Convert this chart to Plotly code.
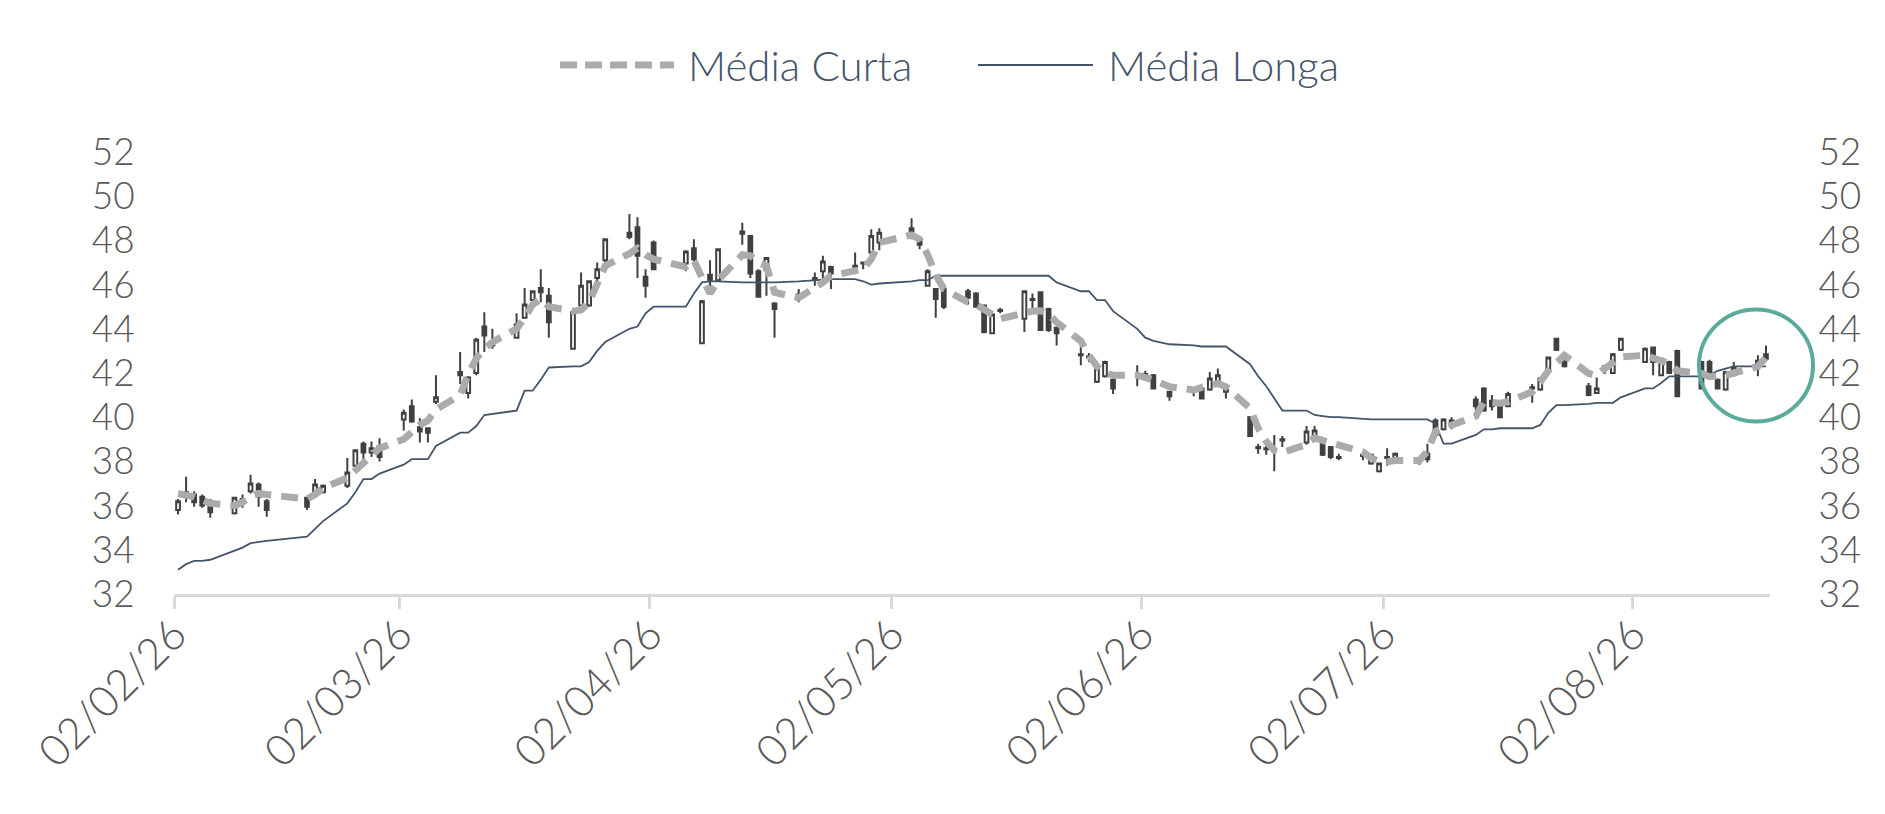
import plotly.graph_objects as go

# trading days shown on the chart
dates = (
    ["2026-02-%02d" % d for d in [2, 3, 4, 5, 6, 9, 10, 11, 12, 13, 18, 19, 20, 23, 24, 25, 26, 27]]
    + ["2026-03-%02d" % d for d in [2, 3, 4, 5, 6, 9, 10, 11, 12, 13, 16, 17, 18, 19, 20, 23, 24, 25, 26, 27, 30, 31]]
    + ["2026-04-%02d" % d for d in [1, 2, 6, 7, 8, 9, 10, 13, 14, 15, 16, 17, 20, 22, 23, 24, 27, 28, 29, 30]]
    + ["2026-05-%02d" % d for d in [4, 5, 6, 7, 8, 11, 12, 13, 14, 15, 18, 19, 20, 21, 22, 25, 26, 27, 28, 29]]
    + ["2026-06-%02d" % d for d in [1, 2, 3, 5, 8, 9, 10, 11, 12, 15, 16, 17, 18, 19, 22, 23, 24, 25, 26, 29, 30]]
    + ["2026-07-%02d" % d for d in [1, 2, 3, 6, 7, 8, 9, 10, 13, 14, 15, 16, 17, 20, 21, 22, 23, 24, 27, 28, 29, 30, 31]]
    + ["2026-08-%02d" % d for d in [3, 4, 5, 6, 7, 10, 11, 12, 13, 14, 17, 18]]
)

opens = [
    35.8, 36.6, 36.5, 36.4, 36.2, 35.65, 36.25, 36.65, 36.95, 36.2, 36.35, 36.5, 36.6, 36.9, 37.8, 38.8, 38.4, 38.7,
    39.9, 40.5, 39.55, 39.5, 40.7, 42.05, 41.1, 42.0, 44.1, 43.4, 43.6, 44.5, 45.3, 45.85, 45.5, 43.1, 45.05, 45.05, 46.3, 47.1, 48.35, 48.6,
    46.35, 47.9, 46.95, 47.65, 43.35, 46.45, 46.2, 48.3, 48.2, 46.6, 46.65, 45.15, 45.55, 46.3, 46.6, 46.8, 46.85, 46.95, 47.45, 47.9,
    48.55, 48.0, 45.95, 45.8, 45.8, 45.7, 45.6, 45.05, 43.8, 44.85, 44.45, 45.35, 45.65, 44.9, 44.05, 42.85, 42.75, 41.6, 41.85, 41.7,
    41.9, 41.95, 41.9, 41.15, 41.2, 41.3, 41.25, 41.6, 41.25, 40.0, 38.65, 38.6, 38.55, 38.95, 38.85, 39.0, 38.8, 38.65, 38.2, 38.3, 37.9,
    37.55, 38.2, 38.0, 38.05, 38.35, 39.85, 39.45, 39.85, 40.8, 41.3, 40.75, 40.55, 40.5, 41.35, 41.25, 42.15, 43.55, 42.5, 41.4, 41.1, 42.25, 42.0, 43.05,
    42.5, 43.15, 41.9, 42.5, 43.0, 42.5, 42.5, 41.7, 41.25, 41.9, 42.55, 42.85,
]
highs = [
    36.3, 37.3, 36.65, 36.5, 36.3, 36.4, 36.5, 37.4, 37.05, 36.3, 36.4, 37.2, 36.95, 38.15, 38.55, 38.9, 38.9, 39.05,
    40.35, 40.8, 39.95, 39.55, 41.9, 42.95, 41.85, 43.6, 44.75, 44.0, 44.7, 45.85, 45.75, 46.7, 45.85, 44.8, 46.55, 46.2, 47.0, 48.05, 49.2, 49.05,
    46.7, 48.0, 47.55, 48.05, 45.3, 47.1, 47.6, 48.8, 48.2, 46.7, 47.25, 45.2, 45.8, 46.55, 47.3, 46.85, 47.45, 47.05, 48.5, 48.55,
    49.0, 48.05, 46.7, 45.85, 45.85, 45.8, 45.65, 45.1, 44.7, 44.95, 45.75, 45.6, 45.7, 44.95, 44.1, 43.2, 42.9, 42.25, 42.55, 41.75,
    42.35, 42.1, 41.95, 41.2, 41.25, 41.35, 42.05, 42.2, 41.35, 40.05, 38.8, 38.9, 39.2, 39.15, 39.6, 39.6, 38.85, 38.7, 38.35, 38.4, 38.35,
    37.95, 38.6, 38.4, 38.2, 38.8, 39.95, 39.95, 40.0, 40.95, 41.35, 41.0, 40.6, 41.15, 41.5, 41.8, 42.75, 43.6, 42.95, 41.55, 41.8, 42.35, 42.9, 43.6,
    43.15, 43.2, 42.7, 42.55, 43.05, 42.55, 42.6, 41.75, 42.1, 42.5, 42.8, 43.25,
]
lows = [
    35.6, 36.15, 35.95, 35.9, 35.45, 35.6, 35.9, 36.55, 35.95, 35.5, 35.8, 36.4, 36.55, 36.8, 37.75, 38.0, 38.2, 38.0,
    39.4, 39.75, 38.85, 38.85, 40.6, 41.5, 40.85, 41.9, 42.95, 43.1, 43.55, 44.45, 45.25, 45.2, 43.6, 43.05, 44.95, 45.0, 45.95, 46.75, 48.05, 46.3,
    45.4, 46.65, 46.6, 47.05, 43.3, 45.8, 46.15, 47.8, 46.3, 45.4, 45.5, 43.6, 45.2, 45.95, 46.2, 45.8, 46.7, 46.7, 47.4, 47.55,
    48.05, 47.6, 45.9, 44.5, 44.9, 45.1, 44.95, 43.8, 43.75, 44.7, 43.85, 44.9, 43.9, 43.85, 43.25, 42.35, 42.5, 41.55, 41.8, 41.05,
    41.4, 41.7, 41.25, 40.75, 40.95, 40.8, 41.2, 41.5, 40.85, 39.1, 38.35, 38.3, 37.55, 38.65, 38.75, 38.9, 38.25, 38.1, 38.05, 38.05, 37.85,
    37.5, 37.8, 37.95, 37.85, 37.95, 39.15, 39.4, 39.45, 40.3, 40.25, 40.3, 39.95, 40.45, 40.65, 41.2, 42.1, 43.0, 42.25, 40.95, 41.05, 41.95, 41.95, 43.0,
    42.45, 41.9, 41.85, 41.95, 40.9, 41.25, 41.85, 41.25, 41.2, 41.85, 41.85, 42.6,
]
closes = [
    36.2, 36.5, 36.15, 36.0, 35.7, 36.35, 36.3, 37.0, 36.4, 35.8, 35.95, 36.95, 36.9, 37.5, 38.5, 38.4, 38.6, 38.2,
    40.2, 39.8, 39.35, 39.3, 40.9, 41.9, 41.8, 43.5, 43.7, 43.25, 44.2, 45.1, 45.7, 45.65, 44.3, 44.75, 45.95, 46.15, 46.7, 48.05, 48.15, 47.3,
    45.95, 46.7, 47.5, 47.15, 45.25, 46.2, 47.6, 48.4, 46.5, 45.45, 47.2, 44.9, 45.4, 46.25, 47.05, 46.5, 46.8, 47.0, 48.2, 48.35,
    48.4, 47.8, 46.6, 45.35, 45.0, 45.4, 45.0, 43.85, 44.65, 44.8, 45.7, 45.3, 43.95, 43.95, 43.8, 42.8, 42.7, 42.2, 42.5, 41.3,
    41.9, 41.9, 41.3, 40.95, 41.15, 40.85, 41.75, 41.9, 41.15, 39.15, 38.6, 38.55, 38.5, 39.0, 39.35, 39.4, 38.3, 38.2, 38.15, 38.25, 38.3,
    37.9, 38.15, 38.35, 38.0, 38.1, 39.2, 39.9, 39.6, 40.5, 40.3, 40.5, 40.0, 41.05, 41.3, 41.75, 42.7, 43.05, 42.3, 41.0, 41.3, 42.3, 42.85, 43.55,
    43.1, 42.5, 42.65, 42.0, 40.95, 41.3, 42.0, 41.3, 42.05, 42.25, 42.3, 42.65,
]

media_curta = [
    36.55, 36.5, 36.4, 36.25, 36.1, 36.0, 36.15, 36.4, 36.55, 36.5, 36.3, 36.5, 36.8, 37.25, 37.6, 38.0, 38.3, 38.6,
    39.0, 39.35, 39.65, 39.85, 40.35, 41.0, 41.95, 42.65, 43.1, 43.4, 44.0, 44.5, 45.1, 45.35, 45.0, 44.8, 44.85, 45.2, 46.0, 46.85, 47.4, 47.65,
    47.35, 47.15, 46.8, 47.1, 46.3, 45.6, 46.2, 47.35, 47.3, 47.0, 46.85, 45.65, 45.4, 45.85, 46.1, 46.4, 46.6, 46.7, 47.15, 47.9,
    48.25, 48.05, 47.35, 46.45, 45.8, 45.2, 45.1, 44.85, 44.65, 44.45, 44.75, 44.8, 44.82, 44.67, 44.3, 43.45, 42.8, 42.3, 42.0, 41.9,
    41.9, 41.83, 41.68, 41.38, 41.23, 41.35, 41.45, 41.53, 41.38, 40.4, 39.5, 38.9, 38.5, 38.4, 38.76, 39.06, 38.95, 38.85, 38.68, 38.43, 38.16,
    38.0, 37.98, 38.04, 38.04, 38.46, 39.36, 39.5, 39.6, 40.05, 40.7, 40.65, 40.63, 40.7, 41.15, 41.6, 42.1, 42.45, 42.8, 41.98, 41.9, 42.2, 42.45, 42.73,
    42.8, 42.7, 42.58, 42.43, 42.1, 41.98, 41.83, 41.85, 41.9, 42.0, 42.3, 42.7,
]
media_longa = [
    33.1, 33.35, 33.5, 33.5, 33.55, 33.95, 34.1, 34.3, 34.35, 34.4, 34.6, 34.95, 35.3, 36.1, 36.6, 37.2, 37.2, 37.45,
    37.85, 38.1, 38.1, 38.1, 38.7, 39.3, 39.3, 39.6, 40.1, 40.15, 40.3, 41.2, 41.2, 41.7, 42.25, 42.3, 42.3, 42.5, 43.0, 43.4, 44.0, 44.1,
    44.7, 45.0, 45.0, 45.6, 46.1, 46.15, 46.15, 46.1, 46.1, 46.1, 46.1, 46.1, 46.15, 46.2, 46.25, 46.25, 46.25, 46.15, 46.0, 46.05,
    46.15, 46.2, 46.2, 46.4, 46.4, 46.4, 46.4, 46.4, 46.4, 46.4, 46.4, 46.4, 46.4, 46.4, 46.1, 45.7, 45.7, 45.3, 45.3, 44.8,
    44.0, 43.6, 43.45, 43.3, 43.25, 43.2, 43.2, 43.2, 43.2, 42.4, 41.85, 41.4, 40.85, 40.3, 40.3, 40.1, 40.05, 40.0, 40.0, 39.9, 39.9,
    39.9, 39.9, 39.9, 39.9, 39.9, 39.7, 38.8, 38.8, 39.2, 39.45, 39.45, 39.5, 39.5, 39.5, 39.65, 40.2, 40.55, 40.55, 40.6, 40.65, 40.65, 40.65, 40.9,
    41.3, 41.3, 41.55, 41.85, 41.85, 41.85, 41.9, 42.1, 42.2, 42.3, 42.3, 42.3,
]

month_ticks = ["2026-02-02", "2026-03-02", "2026-04-02", "2026-05-02", "2026-06-02", "2026-07-02", "2026-08-02"]
month_labels = ["02/02/26", "02/03/26", "02/04/26", "02/05/26", "02/06/26", "02/07/26", "02/08/26"]

candle_col = "#404040"
curta_col = "#ababab"
longa_col = "#44546a"
text_col = "#595959"
font_name = "Lato"

# plot box in pixels (as in the original)
L, R, T, B = 174, 115, 152, 220
W, H = 1885, 814

# Excel puts each daily candle in the middle of its day slot
xs = [d + " 12:00" for d in dates]

fig = go.Figure()
fig.add_trace(go.Candlestick(
    x=xs, open=opens, high=highs, low=lows, close=closes,
    increasing=dict(line=dict(color=candle_col, width=2), fillcolor="white"),
    decreasing=dict(line=dict(color=candle_col, width=2), fillcolor=candle_col),
    whiskerwidth=0, showlegend=False, hoverinfo="skip",
))
fig.add_trace(go.Scatter(x=xs, y=media_longa, mode="lines", name="Média Longa",
                         line=dict(color=longa_col, width=1.8), showlegend=False))
fig.add_trace(go.Scatter(x=xs, y=media_curta, mode="lines", name="Média Curta",
                         line=dict(color=curta_col, width=7, dash="17px,10px"), showlegend=False))
# invisible trace to carry the right-hand axis
fig.add_trace(go.Scatter(x=xs[:1], y=[None], yaxis="y2", showlegend=False, hoverinfo="skip"))


def px_x(p):
    return (p - L) / float(W - L - R)


def px_y(p):
    return (H - B - p) / float(H - T - B)


leg_y = px_y(65)
shapes = [
    dict(type="line", xref="paper", yref="paper", x0=px_x(560), x1=px_x(674), y0=leg_y, y1=leg_y,
         line=dict(color=curta_col, width=7, dash="17px,8px")),
    dict(type="line", xref="paper", yref="paper", x0=px_x(978), x1=px_x(1093), y0=leg_y, y1=leg_y,
         line=dict(color=longa_col, width=1.8)),
    # highlight circle around the latest candles
    dict(type="circle", xref="paper", yref="paper", xsizemode="pixel", ysizemode="pixel",
         xanchor=px_x(1756), yanchor=px_y(365.5), x0=-57, x1=57, y0=-56, y1=56,
         line=dict(color="#5aab9c", width=4)),
]
legend_font = dict(family=font_name, size=42, color=longa_col, weight=300)
annotations = [
    dict(text="Média Curta", xref="paper", yref="paper", x=px_x(686), y=leg_y, xanchor="left", yanchor="middle",
         showarrow=False, font=legend_font),
    dict(text="Média Longa", xref="paper", yref="paper", x=px_x(1106), y=leg_y, xanchor="left", yanchor="middle",
         showarrow=False, font=legend_font),
]

tick_font = dict(family=font_name, size=37, color=text_col, weight=300)
fig.update_layout(
    width=W, height=H,
    margin=dict(l=L, r=R, t=T, b=B),
    paper_bgcolor="white", plot_bgcolor="white",
    boxgap=0.34,
    showlegend=False,
    shapes=shapes, annotations=annotations,
    xaxis=dict(
        type="date", range=["2026-02-02", "2026-08-19"],
        rangeslider=dict(visible=False),
        tickvals=month_ticks, ticktext=month_labels, tickangle=-45,
        tickfont=dict(family=font_name, size=43, color=text_col, weight=300),
        ticks="outside", ticklen=12, tickwidth=3, tickcolor="#d9d9d9",
        ticklabelstandoff=-17,
        showline=True, linecolor="#d9d9d9", linewidth=3,
        showgrid=False, zeroline=False,
    ),
    yaxis=dict(
        range=[32, 52], tickvals=list(range(32, 53, 2)), tickfont=tick_font,
        showgrid=False, zeroline=False, showline=False,
        ticks="outside", ticklen=31, tickcolor="rgba(0,0,0,0)",
    ),
    yaxis2=dict(
        range=[32, 52], tickvals=list(range(32, 53, 2)), tickfont=tick_font,
        overlaying="y", side="right", showgrid=False, zeroline=False, showline=False,
        ticks="outside", ticklen=40, tickcolor="rgba(0,0,0,0)",
    ),
)

# no page margin, so the figure sits at the top-left corner of the window
fig.write_html("out.html", config={"displayModeBar": False},
               post_script="document.body.style.margin='0';")
